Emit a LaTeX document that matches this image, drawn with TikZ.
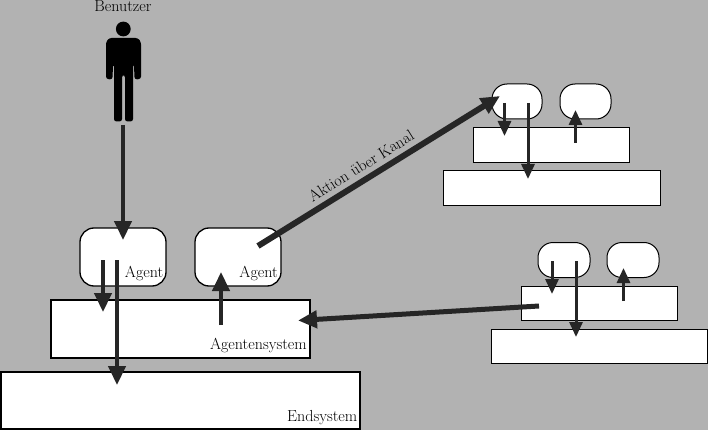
\documentclass[tikz,border=0pt]{standalone}
\usetikzlibrary{arrows.meta}
\definecolor{bgc}{HTML}{B2B2B2}
\definecolor{arr}{HTML}{262626}
\tikzset{
  x=1pt,y=-1pt,
  bigbox/.style={draw=black,fill=white,line width=1.3pt,inner sep=0pt,outer sep=0pt},
  smallbox/.style={draw=black,fill=white,line width=1pt,inner sep=0pt,outer sep=0pt},
  bigagent/.style={bigbox,rounded corners=14pt},
  smallagent/.style={smallbox,rounded corners=15pt},
  lbl/.style={inner sep=0pt,font=\fontsize{16}{18}\selectfont},
  arrowL/.style={draw=arr,line width=4.5pt,-{Triangle[length=19pt,width=17pt,fill=arr]}},
  arrowS/.style={draw=arr,line width=3pt,-{Triangle[length=15pt,width=13pt,fill=arr]}},
  arrowD/.style={draw=arr,line width=6pt,-{Triangle[length=19pt,width=17pt,fill=arr]}},
  arrowE/.style={draw=arr,line width=5pt,-{Triangle[length=19pt,width=17pt,fill=arr]}},
}
\begin{document}
\begin{tikzpicture}
\useasboundingbox (0,0) rectangle (708,430);
\fill[bgc] (0,0) rectangle (708,430);
% person
\node[lbl,anchor=base] (benutzer) at (123,11.5) {Benutzer};
\fill[black] (123.3,29) circle (7.4);
\fill[black,rounded corners=2.5pt] (106,42) -- (109,38) -- (138,38) -- (141,42) -- (141,79) -- (134.5,79.5) -- (134,64) -- (133,64) -- (133,121.5) -- (125,121.5) -- (125,75) -- (122,75) -- (122,121.5) -- (114,121.5) -- (114,64) -- (113,64) -- (112.5,79.5) -- (106,79) -- cycle;
% main boxes
\node[bigbox,minimum width=359pt,minimum height=57pt] (end1) at (180.5,400.5) {};
\node[bigbox,minimum width=259pt,minimum height=58pt] (sys1) at (180.5,329) {};
\node[bigagent,minimum width=86pt,minimum height=58pt] (ag1) at (123,257) {};
\node[bigagent,minimum width=86pt,minimum height=58pt] (ag2) at (238,257) {};
\node[lbl,anchor=base east] (lag1) at (163.5,277) {Agent};
\node[lbl,anchor=base east] (lag2) at (278,277) {Agent};
\node[lbl,anchor=base east] (lsys) at (307,349.5) {Agentensystem};
\node[lbl,anchor=base east] (lend) at (357.5,421.5) {Endsystem};
% upper right
\node[smallbox,minimum width=217pt,minimum height=34pt] (end2) at (551.5,188) {};
\node[smallbox,minimum width=156pt,minimum height=35pt] (sys2) at (551,145) {};
\node[smallagent,minimum width=50pt,minimum height=35pt] (ag3) at (517,101.5) {};
\node[smallagent,minimum width=51pt,minimum height=35pt] (ag4) at (585.5,101.5) {};
% lower right
\node[smallbox,minimum width=216pt,minimum height=34pt] (end3) at (599,346) {};
\node[smallbox,minimum width=156pt,minimum height=34pt] (sys3) at (599,303) {};
\node[smallagent,minimum width=52pt,minimum height=35pt] (ag5) at (564,260) {};
\node[smallagent,minimum width=52pt,minimum height=35pt] (ag6) at (633,260) {};
% arrow ends
\coordinate (p0) at (123,125); \coordinate (p1) at (123,240);
\coordinate (a1) at (103,260); \coordinate (a1e) at (103,312);
\coordinate (a2) at (117,260); \coordinate (a2e) at (117,385);
\coordinate (a3) at (221,325); \coordinate (a3e) at (221,272);
\coordinate (k1) at (258,246); \coordinate (k1e) at (500,96);
\coordinate (k2) at (539,306); \coordinate (k2e) at (298,320.5);
\coordinate (b1) at (504.5,103); \coordinate (b1e) at (504.5,136);
\coordinate (b2) at (528,103); \coordinate (b2e) at (528,179);
\coordinate (b3) at (575.5,143); \coordinate (b3e) at (575.5,110);
\coordinate (c1) at (552,261); \coordinate (c1e) at (552,294);
\coordinate (c2) at (576,261); \coordinate (c2e) at (576,337);
\coordinate (c3) at (623.5,301); \coordinate (c3e) at (623.5,268);
% arrows
\draw[arrowL] (p0) -- (p1);
\draw[arrowL] (a1) -- (a1e);
\draw[arrowL] (a2) -- (a2e);
\draw[arrowL] (a3) -- (a3e);
\draw[arrowD] (k1) -- (k1e);
\draw[arrowE] (k2) -- (k2e);
\draw[arrowS] (b1) -- (b1e);
\draw[arrowS] (b2) -- (b2e);
\draw[arrowS] (b3) -- (b3e);
\draw[arrowS] (c1) -- (c1e);
\draw[arrowS] (c2) -- (c2e);
\draw[arrowS] (c3) -- (c3e);
\node[lbl,rotate=32] (kanal) at (361,166) {Aktion über Kanal};
\end{tikzpicture}
\end{document}
